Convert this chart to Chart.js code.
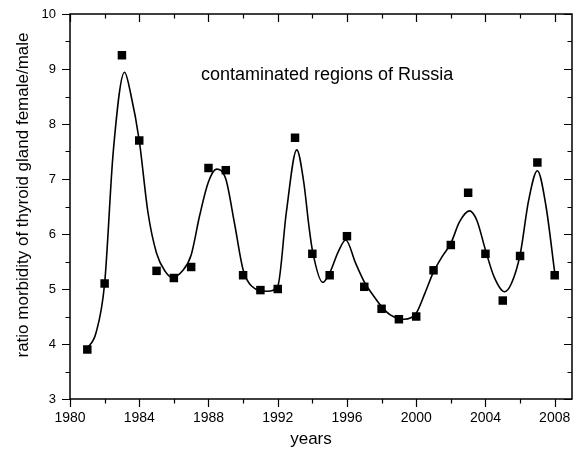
<!DOCTYPE html>
<html>
<head>
<meta charset="utf-8">
<script src="https://cdn.jsdelivr.net/npm/chart.js@4"></script>
<style>
    html, body { margin: 0; padding: 0; background: #fff; }
    #wrap { width: 580px; height: 452px; }
</style>
</head>
<body>
<div id="wrap"><canvas id="chart" width="580" height="452"></canvas></div>
<script>
// measured points
var years = [1981, 1982, 1983, 1984, 1985, 1986, 1987, 1988, 1989, 1990, 1991, 1992, 1993, 1994,
    1995, 1996, 1997, 1998, 1999, 2000, 2001, 2002, 2003, 2004, 2005, 2006, 2007, 2008];
var ratio = [3.9, 5.1, 9.25, 7.7, 5.33, 5.2, 5.4, 7.2, 7.16, 5.25, 4.98, 5.0, 7.75, 5.64,
    5.25, 5.96, 5.04, 4.64, 4.45, 4.5, 5.34, 5.8, 6.75, 5.64, 4.79, 5.6, 7.3, 5.25];

// fitted curve
var fitYears = [1981, 1981.5, 1982, 1982.5, 1983.15, 1983.5, 1984, 1984.5, 1985, 1985.5, 1985.9,
    1986.5, 1987, 1987.5, 1988, 1988.47, 1989, 1989.5, 1990, 1990.5, 1991.4, 1992, 1992.5, 1993.1,
    1993.5, 1993.8, 1994, 1994.6, 1995, 1995.5, 1995.93, 1996.5, 1997, 1997.5, 1998, 1998.5, 1999.3,
    2000, 2000.5, 2001, 2001.5, 2002, 2002.5, 2003.07, 2003.5, 2004, 2004.5, 2005.1, 2005.5, 2006,
    2006.5, 2007, 2007.5, 2008];
var fitValues = [3.92, 4.2, 5.1, 7.5, 8.94, 8.56, 7.7, 6.4, 5.65, 5.32, 5.21,
    5.33, 5.62, 6.35, 6.95, 7.18, 7.0, 6.2, 5.35, 5.05, 4.96, 5.05, 6.4, 7.53,
    6.95, 6.15, 5.71, 5.12, 5.29, 5.68, 5.89, 5.47, 5.13, 4.89, 4.68, 4.53, 4.45,
    4.56, 4.92, 5.31, 5.59, 5.83, 6.22, 6.42, 6.25, 5.71, 5.22, 4.95, 5.1, 5.62,
    6.62, 7.15, 6.5, 5.3];

var xTicks = [1980, 1984, 1988, 1992, 1996, 2000, 2004, 2008];
var xMinorTicks = [1982, 1986, 1990, 1994, 1998, 2002, 2006];
var yTicks = [3, 4, 5, 6, 7, 8, 9, 10];
var yMinorTicks = [3.5, 4.5, 5.5, 6.5, 7.5, 8.5, 9.5];

var annotation = 'contaminated regions of Russia';
var xTitle = 'years';
var yTitle = 'ratio morbidity of thyroid gland female/male';

var FONT = '"Liberation Sans", Arial, sans-serif';

function toPoints(xs, ys) {
    return xs.map(function (x, i) {
        return {x: x, y: ys[i]};
    });
}

var framePlugin = {
    id: 'frame',
    afterDraw: function (chart) {
        var ctx = chart.ctx;
        var a = chart.chartArea;
        var x = chart.scales.x;
        var y = chart.scales.y;
        ctx.save();
        ctx.strokeStyle = '#000';
        ctx.lineWidth = 1.5;
        ctx.strokeRect(a.left, a.top, a.right - a.left, a.bottom - a.top);

        ctx.lineWidth = 1.2;
        ctx.beginPath();
        function xTick(v, len) {
            var px = Math.round(x.getPixelForValue(v)) + 0.5;
            ctx.moveTo(px, a.bottom);
            ctx.lineTo(px, a.bottom + len);
            ctx.moveTo(px, a.top);
            ctx.lineTo(px, a.top + len);
        }
        function yTick(v, len) {
            var py = Math.round(y.getPixelForValue(v)) + 0.5;
            ctx.moveTo(a.left - len, py);
            ctx.lineTo(a.left, py);
            ctx.moveTo(a.right - len, py);
            ctx.lineTo(a.right, py);
        }
        xTicks.forEach(function (v) { xTick(v, 8); });
        xMinorTicks.forEach(function (v) { xTick(v, 4.5); });
        yTicks.forEach(function (v) { yTick(v, 8); });
        yMinorTicks.forEach(function (v) { yTick(v, 4.5); });
        ctx.stroke();

        ctx.fillStyle = '#000';
        ctx.font = '18px ' + FONT;
        ctx.textAlign = 'left';
        ctx.textBaseline = 'alphabetic';
        ctx.fillText(annotation, 201, 80);

        ctx.font = '17px ' + FONT;
        ctx.textAlign = 'center';
        ctx.fillText(xTitle, 311, 444);

        ctx.translate(23, 195);
        ctx.rotate(-Math.PI / 2);
        ctx.textBaseline = 'middle';
        ctx.fillText(yTitle, 0, 0);
        ctx.restore();
    }
};

document.addEventListener('DOMContentLoaded', function () {
    new Chart(document.getElementById('chart').getContext('2d'), {
        type: 'scatter',
        data: {
            datasets: [
                {
                    label: 'data',
                    data: toPoints(years, ratio),
                    pointStyle: 'rect',
                    pointRadius: 6,
                    backgroundColor: '#000',
                    borderColor: '#000',
                    borderWidth: 0,
                    showLine: false,
                    order: 1
                },
                {
                    label: 'fit',
                    type: 'line',
                    data: toPoints(fitYears, fitValues),
                    borderColor: '#000',
                    borderWidth: 1.6,
                    pointRadius: 0,
                    fill: false,
                    cubicInterpolationMode: 'monotone',
                    order: 2
                }
            ]
        },
        options: {
            responsive: false,
            animation: false,
            devicePixelRatio: 1,
            layout: {padding: {left: 0, right: 8, top: 14, bottom: 0}},
            plugins: {
                legend: {display: false},
                tooltip: {enabled: false}
            },
            scales: {
                x: {
                    type: 'linear',
                    min: 1980,
                    max: 2009,
                    grid: {display: false, drawTicks: false},
                    border: {display: false},
                    afterBuildTicks: function (scale) {
                        scale.ticks = xTicks.map(function (v) { return {value: v}; });
                    },
                    afterFit: function (scale) {
                        scale.height = 53;
                        scale.paddingLeft = 0;
                        scale.paddingRight = 0;
                    },
                    ticks: {
                        padding: 11,
                        color: '#000',
                        maxRotation: 0,
                        font: {family: FONT, size: 14},
                        callback: function (v) { return String(v); }
                    }
                },
                y: {
                    min: 3,
                    max: 10,
                    grid: {display: false, drawTicks: false},
                    border: {display: false},
                    afterBuildTicks: function (scale) {
                        scale.ticks = yTicks.map(function (v) { return {value: v}; });
                    },
                    afterFit: function (scale) {
                        scale.width = 70;
                        scale.paddingTop = 0;
                        scale.paddingBottom = 0;
                    },
                    ticks: {
                        padding: 14,
                        color: '#000',
                        font: {family: FONT, size: 13},
                        callback: function (v) { return String(v); }
                    }
                }
            }
        },
        plugins: [framePlugin]
    });
});
</script>
</body>
</html>
